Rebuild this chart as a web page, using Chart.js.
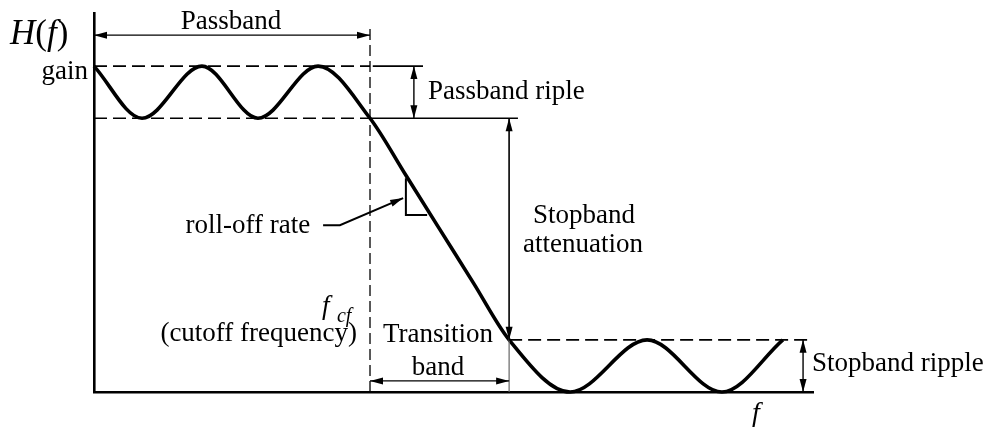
<!DOCTYPE html>
<html lang="en">
<head>
<meta charset="UTF-8" />
<title>Low-pass filter response</title>
<script src="https://cdn.jsdelivr.net/npm/chart.js"></script>
<style>
  body { margin: 0; background: #fff; }
  #wrap { width: 992px; height: 431px; }
</style>
</head>
<body>
<div id="wrap"><canvas id="filterChart" width="992" height="431"></canvas></div>

<script>
// response curve (f in arbitrary units, cutoff at 10, gain = 1)
const respF = [0, 1.74, 3.91, 5.94, 8.12, 10, 11.3, 12.5, 13.75, 15.04, 17.25, 20.04, 22.75, 24.96];
const respH = [1, 0.84, 1, 0.84, 1, 0.84, 0.665, 0.503, 0.334, 0.16, 0, 0.16, 0, 0.16];

// levels and band edges
const GAIN = 1;
const PASS_MIN = 0.84;
const STOP_MAX = 0.16;
const F_CUT = 10;
const F_STOP = 15.04;
const F_MAX = 26.05;
const H_MAX = 1.163;

const FONT = '"Liberation Serif", "Times New Roman", serif';

const guide = (pts, opts) => Object.assign({
  data: pts.map(([fx, hy]) => ({ x: fx, y: hy })),
  borderColor: '#000',
  borderWidth: 1.6,
  pointRadius: 0,
  tension: 0,
  fill: false,
  clip: false
}, opts);

const datasets = [
  guide([[0, GAIN], [F_CUT, GAIN]], { borderDash: [13, 6] }),
  guide([[F_CUT + 0.1, GAIN], [11.92, GAIN]]),
  guide([[0, PASS_MIN], [F_CUT, PASS_MIN]], { borderDash: [13, 6] }),
  guide([[F_CUT, PASS_MIN], [15.36, PASS_MIN]]),
  guide([[F_CUT, 0], [F_CUT, 1.126]], { borderDash: [11, 5], borderWidth: 1.3 }),
  guide([[F_STOP, STOP_MAX], [F_MAX, STOP_MAX]], { borderDash: [13, 6] }),
  guide([[F_STOP, 0], [F_STOP, PASS_MIN]], { borderColor: '#666', borderWidth: 1.2 }),
  // slope marker on the roll-off
  guide([[11.3, 0.656], [11.3, 0.543], [12.07, 0.543]], { borderWidth: 2 }),
  {
    data: respF.map((f, i) => ({ x: f, y: respH[i] })),
    borderColor: '#000',
    borderWidth: 3.6,
    pointRadius: 0,
    cubicInterpolationMode: 'monotone',
    fill: false,
    clip: false
  }
];

const arrows = [
  { pts: [[0, 1.095], [F_CUT, 1.095]], both: true },
  { pts: [[11.59, GAIN], [11.59, PASS_MIN]], both: true },
  { pts: [[F_STOP, PASS_MIN], [F_STOP, STOP_MAX]], both: true },
  { pts: [[F_CUT, 0.034], [F_STOP, 0.034]], both: true },
  { pts: [[25.69, STOP_MAX], [25.69, 0]], both: true },
  { pts: [[8.3, 0.512], [8.91, 0.512], [11.2, 0.595]], both: false, width: 2 }
];

const labels = [
  { runs: [['H', true], ['('], ['f', true], [')']], x: -3.04, y: 1.067, size: 35 },
  { runs: [['gain']], x: -0.22, y: 0.96, align: 'right' },
  { runs: [['Passband']], x: 4.96, y: 1.113, align: 'center' },
  { runs: [['Passband riple']], x: 12.1, y: 0.899 },
  { runs: [['roll-off rate']], x: 7.83, y: 0.488, align: 'right' },
  { runs: [['Stopband']], x: 17.75, y: 0.518, align: 'center' },
  { runs: [['attenuation']], x: 17.72, y: 0.429, align: 'center' },
  { runs: [['f', true]], x: 8.26, y: 0.239 },
  { runs: [['cf', true]], x: 8.8, y: 0.215, size: 20 },
  { runs: [['(cutoff frequency)']], x: 9.53, y: 0.156, align: 'right' },
  { runs: [['Transition']], x: 12.46, y: 0.153, align: 'center' },
  { runs: [['band']], x: 12.46, y: 0.052, align: 'center' },
  { runs: [['Stopband ripple']], x: 26.01, y: 0.064 },
  { runs: [['f', true]], x: 23.84, y: -0.089, size: 28 }
];

function head(ctx, x0, y0, x1, y1) {
  const a = Math.atan2(y1 - y0, x1 - x0);
  const len = 13, half = 3.5;
  ctx.beginPath();
  ctx.moveTo(x1, y1);
  ctx.lineTo(x1 - len * Math.cos(a) + half * Math.sin(a), y1 - len * Math.sin(a) - half * Math.cos(a));
  ctx.lineTo(x1 - len * Math.cos(a) - half * Math.sin(a), y1 - len * Math.sin(a) + half * Math.cos(a));
  ctx.closePath();
  ctx.fill();
}

const annotate = {
  id: 'annotate',
  afterDatasetsDraw(chart) {
    const { ctx, scales: { x, y } } = chart;
    const px = v => x.getPixelForValue(v);
    const py = v => y.getPixelForValue(v);
    ctx.save();
    ctx.strokeStyle = '#000';
    ctx.fillStyle = '#000';

    arrows.forEach(a => {
      const p = a.pts.map(([fx, hy]) => [px(fx), py(hy)]);
      ctx.lineWidth = a.width || 1.4;
      ctx.beginPath();
      p.forEach(([u, v], i) => i ? ctx.lineTo(u, v) : ctx.moveTo(u, v));
      ctx.stroke();
      const n = p.length;
      head(ctx, p[n - 2][0], p[n - 2][1], p[n - 1][0], p[n - 1][1]);
      if (a.both) head(ctx, p[1][0], p[1][1], p[0][0], p[0][1]);
    });

    ctx.textBaseline = 'alphabetic';
    ctx.textAlign = 'left';
    labels.forEach(l => {
      const size = l.size || 27;
      const fontOf = r => `${r[1] ? 'italic ' : ''}${size}px ${FONT}`;
      const widths = l.runs.map(r => { ctx.font = fontOf(r); return ctx.measureText(r[0]).width; });
      const total = widths.reduce((s, w) => s + w, 0);
      let cx = px(l.x);
      if (l.align === 'right') cx -= total;
      else if (l.align === 'center') cx -= total / 2;
      l.runs.forEach((r, i) => {
        ctx.font = fontOf(r);
        ctx.fillText(r[0], cx, py(l.y));
        cx += widths[i];
      });
    });
    ctx.restore();
  }
};

new Chart(document.getElementById('filterChart'), {
  type: 'line',
  data: { datasets },
  options: {
    responsive: false,
    animation: false,
    devicePixelRatio: 1,
    layout: { padding: { left: 94, right: 179, top: 13, bottom: 39 } },
    plugins: { legend: { display: false }, tooltip: { enabled: false } },
    scales: {
      x: {
        type: 'linear', min: 0, max: F_MAX,
        grid: { display: false, drawTicks: false },
        ticks: { display: false },
        border: { display: true, color: '#000', width: 2.6 }
      },
      y: {
        type: 'linear', min: 0, max: H_MAX,
        grid: { display: false, drawTicks: false },
        ticks: { display: false },
        border: { display: true, color: '#000', width: 2.6 }
      }
    }
  },
  plugins: [annotate]
});
</script>
</body>
</html>
